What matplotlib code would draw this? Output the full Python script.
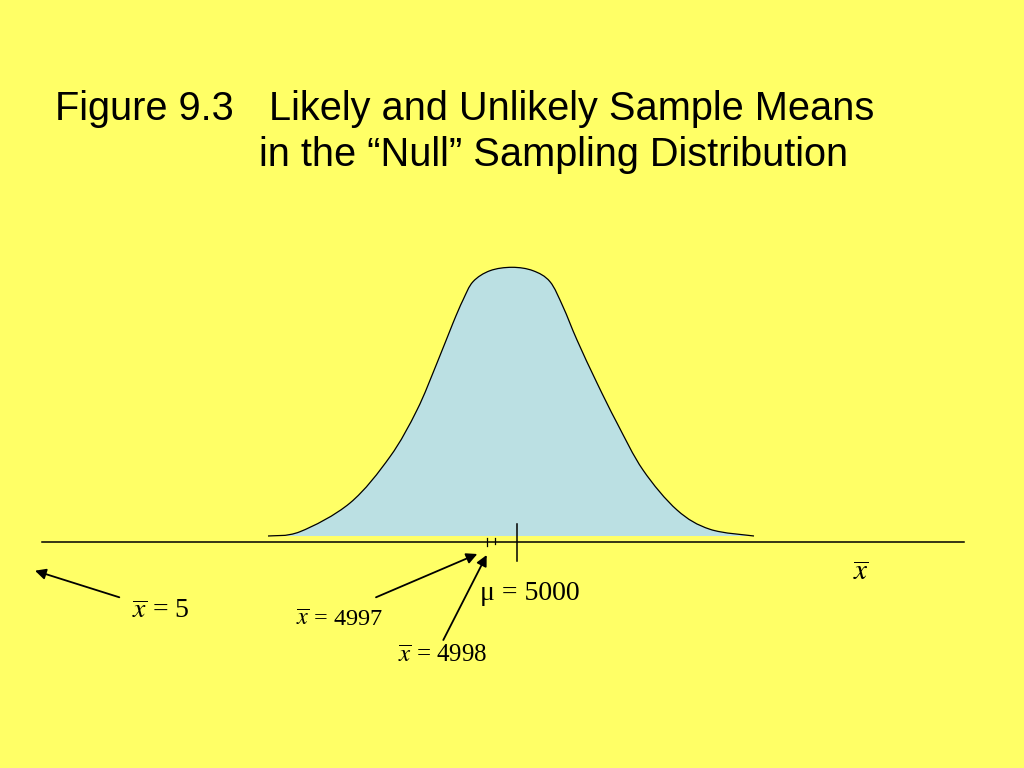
import numpy as np
import matplotlib
matplotlib.use("Agg")
import matplotlib.pyplot as plt
from matplotlib.path import Path
from matplotlib.patches import PathPatch

# outline of the "null" sampling distribution
curve_x = [268, 300, 350, 390, 417, 437, 453, 463, 473, 490, 512,
           533, 550, 563, 577, 597, 617, 643, 677, 710, 754]
curve_y = [536, 531.7, 503, 456.7, 410, 363, 323, 300, 281.7, 270.7, 267.3,
           270.7, 281.7, 306.7, 340, 383, 423, 470, 510, 529.3, 536]

mu = 5000
sample_means = [5, 4997, 4998]
mean_tick_x = [486.7, 494.7]   # 4997, 4998
mu_tick_x = 516.7

bg = "#FFFF66"
fill_blue = "#BBE0E3"

plt.rcParams["mathtext.fontset"] = "stix"


def smooth_path(xs, ys, close=False):
    pts = np.column_stack([xs, ys]).astype(float)
    n = len(pts)
    verts = [pts[0]]
    codes = [Path.MOVETO]
    for i in range(n - 1):
        p0 = pts[max(i - 1, 0)]
        p3 = pts[min(i + 2, n - 1)]
        c1 = pts[i] + (pts[i + 1] - p0) / 6
        c2 = pts[i + 1] - (p3 - pts[i]) / 6
        verts += [c1, c2, pts[i + 1]]
        codes += [Path.CURVE4] * 3
    if close:
        verts.append(pts[0])
        codes.append(Path.CLOSEPOLY)
    return Path(verts, codes)


fig = plt.figure(figsize=(10.24, 7.68), dpi=100, facecolor=bg)
ax = fig.add_axes([0, 0, 1, 1])
ax.set_facecolor(bg)
ax.set_xlim(0, 1024)
ax.set_ylim(768, 0)
ax.axis("off")

ax.add_patch(PathPatch(smooth_path(curve_x, curve_y, close=True),
                       facecolor=fill_blue, edgecolor="none"))
ax.add_patch(PathPatch(smooth_path(curve_x, curve_y),
                       facecolor="none", edgecolor="black", lw=0.9))

# horizontal axis and ticks
ax.plot([42, 964], [542, 542], color="black", lw=1.1)
for tx, top, bottom in zip(mean_tick_x, [537.5, 537.5], [546, 544]):
    ax.plot([tx, tx], [top, bottom], color="black", lw=0.9)
ax.plot([mu_tick_x, mu_tick_x], [524, 561], color="black", lw=1.1)

# title
title_kw = dict(fontsize=28.6, family="Liberation Sans", color="black", va="baseline")
ax.text(55, 119.5, "Figure 9.3", **title_kw)
ax.text(269, 119.5, "Likely and Unlikely Sample Means", **title_kw)
ax.text(259, 166, "in the \u201cNull\u201d Sampling Distribution", **title_kw)

# labels
lab_kw = dict(family="Liberation Serif", color="black", va="baseline")
ax.text(853, 580, r"$\overline{x}$", fontsize=21, **lab_kw)
ax.text(132, 618, r"$\overline{x}$ = %d" % sample_means[0], fontsize=20, **lab_kw)
ax.text(296, 626, r"$\overline{x}$ = %d" % sample_means[1], fontsize=17.5, **lab_kw)
ax.text(398, 662, r"$\overline{x}$ = %d" % sample_means[2], fontsize=18, **lab_kw)
ax.text(480, 600, "\u03bc = %d" % mu, fontsize=20, **lab_kw)

# arrows
arrow_kw = dict(arrowstyle="-|>", color="black", lw=1.3, mutation_scale=16,
                shrinkA=0, shrinkB=0)
ax.annotate("", xy=(35, 570.7), xytext=(119.3, 597.3), arrowprops=arrow_kw)
ax.annotate("", xy=(477.3, 554), xytext=(376, 597.3), arrowprops=arrow_kw)
ax.annotate("", xy=(486.7, 555), xytext=(443.3, 640), arrowprops=arrow_kw)

fig.savefig("out.png", dpi=100, facecolor=bg)
